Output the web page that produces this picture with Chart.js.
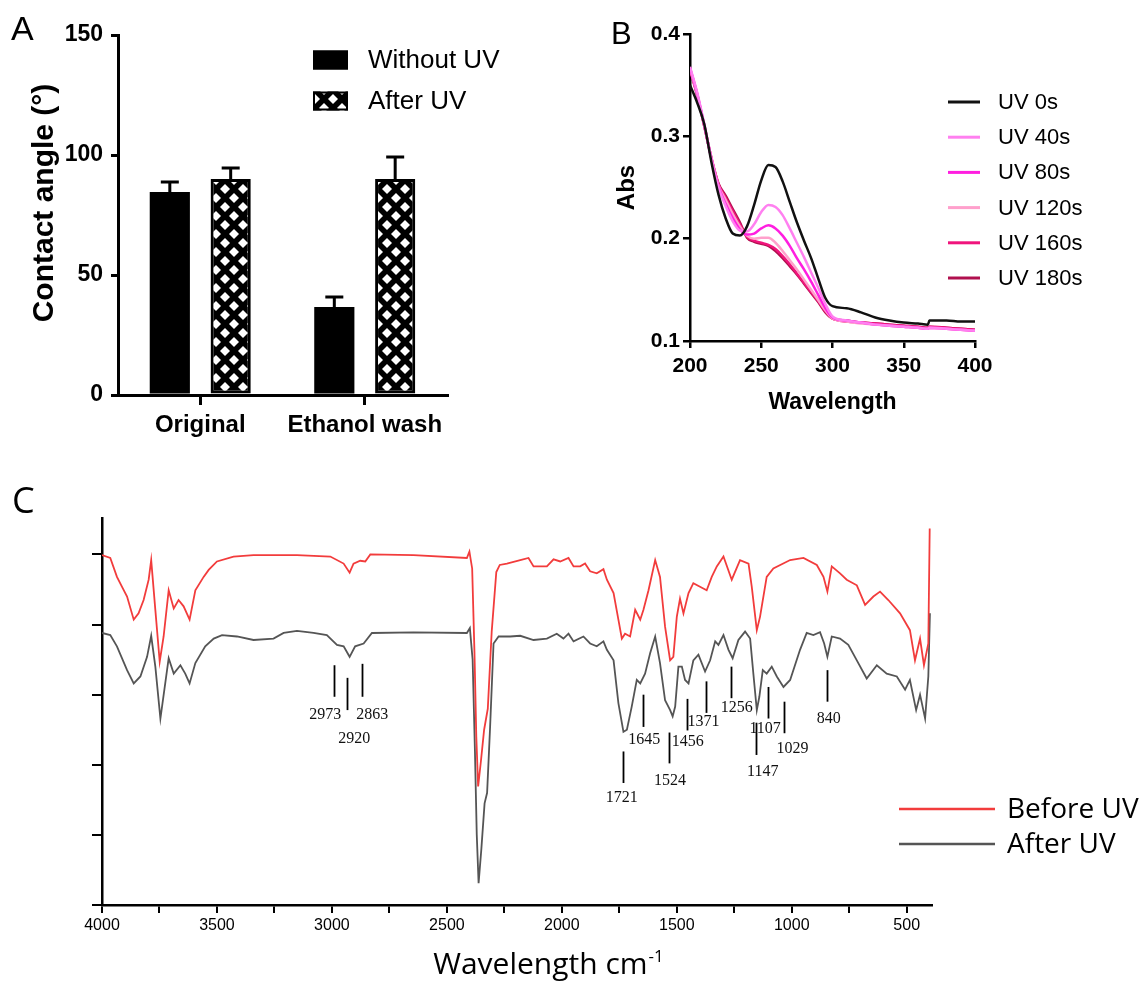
<!DOCTYPE html>
<html>
<head>
<meta charset="utf-8">
<title>Contact angle, UV-Vis and FTIR</title>
<script src="https://cdn.jsdelivr.net/npm/chart.js@4.4.1/dist/chart.umd.min.js"></script>
<style>
  body { margin: 0; background: #fff; }
  #wrap { position: relative; width: 1146px; height: 986px; overflow: hidden; background: #fff; }
  #wrap canvas { position: absolute; }
</style>
</head>
<body>
<div id="wrap">
  <canvas id="chartA" width="580" height="470" style="left:0;top:0"></canvas>
  <canvas id="chartB" width="566" height="420" style="left:580px;top:0"></canvas>
  <canvas id="chartC" width="1146" height="516" style="left:0;top:470px"></canvas>
</div>
<script>
// --- A: contact angle ---
const groupNames = ['Original', 'Ethanol wash'];
const withoutUV = [84.6, 36.7];
const withoutUVErr = [4.2, 4.1];
const afterUV = [90.0, 90.0];
const afterUVErr = [4.6, 9.2];
const angleTicks = [0, 50, 100, 150];

// --- B: UV-Vis absorbance ---
const uvWave = [200, 205, 210, 215, 220, 225, 230, 235, 240, 245, 250, 255, 260, 265, 270, 275,
                280, 285, 290, 295, 300, 310, 320, 330, 340, 350, 360, 367, 368, 380, 390, 400];
const uv0   = [.350, .333, .312, .275, .243, .220, .205, .203, .212, .233, .257, .272, .270, .256, .236, .216,
               .198, .181, .161, .142, .134, .132, .128, .123, .120, .118, .117, .116, .120, .120, .119, .119];
const uv40  = [.368, .343, .312, .278, .250, .232, .217, .208, .207, .214, .226, .233, .231, .223, .210, .196,
               .182, .167, .152, .136, .124, .120, .118, .116, .115, .114, .113, .112, .113, .112, .111, .110];
const uv80  = [.367, .342, .311, .278, .251, .234, .220, .209, .204, .205, .210, .213, .210, .203, .193, .181,
               .170, .158, .145, .132, .123, .120, .118, .116, .115, .114, .113, .112, .113, .112, .111, .110];
const uv120 = [.366, .341, .311, .279, .252, .238, .224, .212, .203, .200, .201, .201, .196, .188, .179, .170,
               .160, .150, .140, .130, .122, .119, .117, .116, .115, .114, .113, .112, .113, .112, .111, .110];
const uv160 = [.366, .341, .310, .279, .253, .240, .227, .214, .202, .198, .196, .194, .190, .183, .175, .166,
               .157, .148, .139, .129, .122, .119, .118, .117, .116, .115, .114, .113, .114, .113, .112, .111];
const uv180 = [.365, .340, .310, .279, .254, .242, .229, .216, .201, .197, .195, .193, .188, .181, .173, .165,
               .156, .147, .138, .128, .122, .120, .118, .117, .116, .115, .114, .113, .114, .113, .112, .111];
const uvNames  = ['UV 0s', 'UV 40s', 'UV 80s', 'UV 120s', 'UV 160s', 'UV 180s'];
const uvColors = ['#111111', '#ff80f0', '#ff1ee0', '#ffa0cc', '#f0147c', '#b0104e'];
const absTicks = [0.1, 0.2, 0.3, 0.4];
const waveTicks = [200, 250, 300, 350, 400];

// --- C: FTIR (arbitrary transmittance units) ---
const redWave = [4000, 3964, 3935, 3910, 3891, 3862, 3841, 3819, 3797, 3786, 3768, 3749, 3732, 3710, 3688, 3667,
  3645, 3619, 3594, 3558, 3536, 3500, 3428, 3341, 3152, 3007, 2949, 2923, 2906, 2877, 2855, 2833, 2645, 2413,
  2402, 2390, 2380, 2372, 2364, 2352, 2338, 2322, 2305, 2285, 2270, 2239, 2181, 2145, 2123, 2065, 2036, 2007,
  1971, 1949, 1920, 1899, 1877, 1848, 1819, 1804, 1775, 1754, 1739, 1725, 1703, 1681, 1659, 1645, 1623, 1594,
  1573, 1551, 1529, 1515, 1500, 1486, 1471, 1449, 1428, 1399, 1370, 1348, 1326, 1297, 1261, 1225, 1188, 1174,
  1152, 1138, 1109, 1080, 1007, 949, 891, 862, 845, 826, 790, 761, 717, 681, 645, 616, 580, 529, 486, 464,
  442, 425, 406, 400];
const redVal = [4.99, 4.95, 4.68, 4.52, 4.40, 4.07, 4.16, 4.35, 4.64, 4.92, 4.21, 3.47, 3.83, 4.49, 4.23, 4.35,
  4.26, 4.07, 4.49, 4.68, 4.78, 4.90, 4.97, 4.99, 4.99, 4.97, 4.87, 4.74, 4.87, 4.91, 4.90, 5.00, 4.99, 4.95,
  5.04, 4.80, 3.60, 2.40, 1.69, 2.05, 2.50, 2.80, 3.90, 4.75, 4.85, 4.87, 4.92, 4.95, 4.83, 4.83, 4.93, 4.90,
  4.95, 4.83, 4.83, 4.87, 4.76, 4.73, 4.79, 4.64, 4.45, 4.07, 3.80, 3.87, 3.83, 4.21, 4.07, 4.21, 4.49, 4.92,
  4.68, 3.97, 3.49, 3.54, 4.11, 4.37, 4.16, 4.45, 4.59, 4.54, 4.49, 4.68, 4.83, 4.97, 4.64, 4.92, 4.87, 4.54,
  3.92, 4.11, 4.68, 4.80, 4.92, 4.95, 4.85, 4.68, 4.47, 4.83, 4.73, 4.64, 4.56, 4.28, 4.40, 4.47, 4.35, 4.16,
  3.92, 3.49, 3.80, 3.42, 3.73, 5.37];
const grayWave = [4000, 3964, 3935, 3891, 3862, 3833, 3804, 3786, 3768, 3746, 3725, 3710, 3688, 3659, 3638, 3619,
  3594, 3551, 3514, 3478, 3413, 3341, 3254, 3210, 3152, 3080, 3022, 2978, 2949, 2923, 2899, 2862, 2826, 2645,
  2413, 2400, 2388, 2378, 2370, 2362, 2350, 2336, 2325, 2312, 2297, 2275, 2225, 2181, 2123, 2065, 2022, 1993,
  1971, 1949, 1906, 1877, 1848, 1819, 1804, 1775, 1754, 1732, 1717, 1696, 1674, 1659, 1638, 1616, 1594, 1573,
  1551, 1529, 1518, 1507, 1493, 1478, 1464, 1449, 1428, 1406, 1377, 1355, 1333, 1319, 1297, 1275, 1257, 1232,
  1203, 1181, 1167, 1152, 1141, 1126, 1109, 1087, 1065, 1036, 1007, 964, 935, 906, 877, 859, 845, 826, 790,
  754, 717, 674, 630, 587, 543, 507, 486, 459, 442, 420, 406, 399];
const grayVal = [3.88, 3.85, 3.69, 3.35, 3.16, 3.26, 3.54, 3.84, 3.40, 2.66, 3.16, 3.52, 3.30, 3.42, 3.30, 3.16,
  3.45, 3.69, 3.80, 3.85, 3.83, 3.78, 3.80, 3.88, 3.91, 3.88, 3.85, 3.71, 3.69, 3.54, 3.69, 3.73, 3.88, 3.89,
  3.88, 3.95, 3.50, 2.20, 1.00, 0.31, 0.80, 1.45, 1.60, 2.54, 3.73, 3.83, 3.83, 3.84, 3.78, 3.80, 3.87, 3.80,
  3.87, 3.76, 3.83, 3.73, 3.69, 3.76, 3.64, 3.49, 2.88, 2.47, 2.50, 2.83, 3.21, 3.16, 3.30, 3.59, 3.83, 3.45,
  2.92, 2.78, 2.69, 2.83, 3.40, 3.40, 3.21, 3.16, 3.49, 3.57, 3.33, 3.49, 3.76, 3.71, 3.85, 3.64, 3.52, 3.78,
  3.90, 3.80, 3.30, 2.78, 2.97, 3.35, 3.30, 3.40, 3.26, 3.11, 3.21, 3.64, 3.88, 3.85, 3.89, 3.73, 3.54, 3.83,
  3.80, 3.71, 3.49, 3.23, 3.42, 3.30, 3.26, 3.07, 3.21, 2.78, 3.00, 2.66, 3.26, 4.16];
const cmTicks = [4000, 3750, 3500, 3250, 3000, 2750, 2500, 2250, 2000, 1750, 1500, 1250, 1000, 750, 500];
const levelTicks = [0, 1, 2, 3, 4, 5];

// peak markers: label, marker position (cm-1), marker top/bottom, label position
const peakLabel  = ['2973', '2920', '2863', '1721', '1645', '1524', '1456', '1371', '1256', '1147', '1107', '1029', '840'];
const peakAt     = [2990, 2933, 2868, 1736, 1645, 1532, 1457, 1374, 1264, 1155, 1102, 1033, 848];
const peakTop    = [3.42, 3.24, 3.44, 2.19, 3.00, 2.46, 2.94, 3.19, 3.40, 2.60, 3.11, 2.90, 3.35];
const peakBottom = [2.97, 2.78, 2.97, 1.74, 2.54, 2.02, 2.49, 2.74, 2.95, 2.14, 2.66, 2.45, 2.90];
const peakTextAt = [3029, 2903, 2825, 1739, 1642, 1529, 1452, 1384, 1239, 1126, 1116, 997, 839];
const peakTextY  = [2.72, 2.37, 2.71, 1.53, 2.35, 1.77, 2.33, 2.61, 2.81, 1.90, 2.52, 2.23, 2.66];

Chart.defaults.font.family = '"Liberation Sans", Arial, sans-serif';
Chart.defaults.color = '#000';
Chart.defaults.animation = false;

const SANS = '"Liberation Sans", Arial, sans-serif';
const SOFT = '"Open Sans", "Noto Sans", sans-serif';

// draws the panel letter in the corner
const panelLetter = {
  id: 'panelLetter',
  afterDraw(chart, args, opts) {
    const ctx = chart.ctx;
    ctx.save();
    ctx.font = opts.size + 'px ' + opts.family;
    ctx.fillStyle = '#000';
    ctx.textAlign = 'left';
    ctx.textBaseline = 'alphabetic';
    ctx.fillText(opts.text, opts.x, opts.y);
    ctx.restore();
  }
};

// ----- Panel A -----
function diamondPattern(ctx) {
  const c = document.createElement('canvas');
  c.width = 18; c.height = 18;
  const g = c.getContext('2d');
  g.fillStyle = '#000';
  g.fillRect(0, 0, 18, 18);
  g.fillStyle = '#fff';
  const d = (cx, cy) => {
    g.beginPath();
    g.moveTo(cx, cy - 5); g.lineTo(cx + 5, cy); g.lineTo(cx, cy + 5); g.lineTo(cx - 5, cy);
    g.closePath(); g.fill();
  };
  d(9, 9); d(0, 0); d(18, 0); d(0, 18); d(18, 18);
  return ctx.createPattern(c, 'repeat');
}

const errorBars = {
  id: 'errorBars',
  afterDatasetsDraw(chart) {
    const { ctx } = chart;
    const y = chart.scales.y;
    ctx.save();
    ctx.strokeStyle = '#000';
    ctx.lineWidth = 3;
    chart.data.datasets.forEach((ds, di) => {
      chart.getDatasetMeta(di).data.forEach((bar, i) => {
        const top = y.getPixelForValue(ds.data[i] + ds.errors[i]);
        ctx.beginPath();
        ctx.moveTo(bar.x, bar.y);
        ctx.lineTo(bar.x, top);
        ctx.moveTo(bar.x - 9, top);
        ctx.lineTo(bar.x + 9, top);
        ctx.stroke();
      });
    });
    ctx.restore();
  }
};

const legendA = {
  id: 'legendA',
  afterDraw(chart) {
    const ctx = chart.ctx;
    ctx.save();
    chart.data.datasets.forEach((ds, i) => {
      const yc = 60 + i * 41;
      ctx.fillStyle = ds.backgroundColor;
      ctx.fillRect(313, yc - 9.5, 35, 19);
      ctx.strokeStyle = '#000';
      ctx.lineWidth = 2;
      ctx.strokeRect(314, yc - 8.5, 33, 17);
      ctx.fillStyle = '#000';
      ctx.font = '26px ' + SANS;
      ctx.textAlign = 'left';
      ctx.textBaseline = 'middle';
      ctx.fillText(ds.label, 368, yc + 1);
    });
    // rotated axis title, sitting a little above the axis middle as in the figure
    ctx.translate(53, 203);
    ctx.rotate(-Math.PI / 2);
    ctx.font = 'bold 30px ' + SANS;
    ctx.textAlign = 'center';
    ctx.textBaseline = 'alphabetic';
    ctx.fillText('Contact angle (°)', 0, 0);
    ctx.restore();
  }
};

const ctxA = document.getElementById('chartA').getContext('2d');
new Chart(ctxA, {
  type: 'bar',
  data: {
    labels: groupNames,
    datasets: [{
      label: 'Without UV',
      data: withoutUV,
      errors: withoutUVErr,
      backgroundColor: '#000',
      borderColor: '#000',
      borderWidth: 0,
      categoryPercentage: 0.74,
      barPercentage: 0.66
    }, {
      label: 'After UV',
      data: afterUV,
      errors: afterUVErr,
      backgroundColor: diamondPattern(ctxA),
      borderColor: '#000',
      borderWidth: 3,
      borderSkipped: false,
      categoryPercentage: 0.74,
      barPercentage: 0.66
    }]
  },
  options: {
    responsive: false,
    layout: { padding: { top: 35, right: 133, left: 0, bottom: 0 } },
    scales: {
      x: {
        grid: { offset: false, drawOnChartArea: false, drawTicks: true, tickLength: 10, color: '#000', lineWidth: 3 },
        border: { display: true, color: '#000', width: 3 },
        ticks: { font: { size: 24, weight: 'bold' }, padding: 6, color: '#000' },
        afterFit: (axis) => { axis.height = 75; }
      },
      y: {
        min: 0, max: 150,
        afterBuildTicks: (axis) => { axis.ticks = angleTicks.map(v => ({ value: v })); },
        grid: { drawOnChartArea: false, drawTicks: true, tickLength: 7, color: '#000', lineWidth: 3 },
        border: { display: true, color: '#000', width: 3 },
        ticks: { font: { size: 23, weight: 'bold' }, padding: 8, color: '#000' },
        afterFit: (axis) => { axis.width = 118; }
      }
    },
    plugins: {
      legend: { display: false },
      tooltip: { enabled: false },
      panelLetter: { text: 'A', x: 11, y: 40, size: 34, family: SANS }
    }
  },
  plugins: [errorBars, legendA, panelLetter]
});

// ----- Panel B -----
const legendB = {
  id: 'legendB',
  afterDraw(chart) {
    const ctx = chart.ctx;
    ctx.save();
    chart.data.datasets.forEach((ds, i) => {
      const yc = 102 + i * 35.2;
      ctx.strokeStyle = ds.borderColor;
      ctx.lineWidth = 3;
      ctx.beginPath();
      ctx.moveTo(368, yc);
      ctx.lineTo(400, yc);
      ctx.stroke();
      ctx.fillStyle = '#000';
      ctx.font = '22px ' + SANS;
      ctx.textAlign = 'left';
      ctx.textBaseline = 'middle';
      ctx.fillText(ds.label, 418, yc + 1);
    });
    ctx.restore();
  }
};

const uvSeries = [uv0, uv40, uv80, uv120, uv160, uv180];
new Chart(document.getElementById('chartB'), {
  type: 'line',
  data: {
    datasets: uvSeries.map((vals, k) => ({
      label: uvNames[k],
      data: uvWave.map((w, i) => ({ x: w, y: vals[i] })),
      borderColor: uvColors[k],
      borderWidth: 2.5,
      pointRadius: 0,
      cubicInterpolationMode: 'monotone',
      fill: false
    }))
  },
  options: {
    responsive: false,
    layout: { padding: { top: 34, right: 171, left: 0, bottom: 0 } },
    scales: {
      x: {
        type: 'linear', min: 200, max: 400,
        afterBuildTicks: (axis) => { axis.ticks = waveTicks.map(v => ({ value: v })); },
        grid: { drawOnChartArea: false, drawTicks: true, tickLength: 7, color: '#000', lineWidth: 2.5 },
        border: { display: true, color: '#000', width: 2.5 },
        ticks: { font: { size: 21, weight: 'bold' }, padding: 6, color: '#000' },
        title: { display: true, text: 'Wavelength', font: { size: 23, weight: 'bold' }, padding: { top: 0, bottom: 4 }, color: '#000' },
        afterFit: (axis) => { axis.height = 79; }
      },
      y: {
        min: 0.1, max: 0.4,
        afterBuildTicks: (axis) => { axis.ticks = absTicks.map(v => ({ value: v })); },
        grid: { drawOnChartArea: false, drawTicks: true, tickLength: 7, color: '#000', lineWidth: 2.5 },
        border: { display: true, color: '#000', width: 2.5 },
        ticks: { font: { size: 21, weight: 'bold' }, padding: 3, color: '#000', callback: (v) => v.toFixed(1) },
        title: { display: true, text: 'Abs', font: { size: 24, weight: 'bold' }, padding: { top: 33, bottom: 0 }, color: '#000' },
        afterFit: (axis) => { axis.width = 110; }
      }
    },
    plugins: {
      legend: { display: false },
      tooltip: { enabled: false },
      panelLetter: { text: 'B', x: 31, y: 44, size: 31, family: SANS }
    }
  },
  plugins: [legendB, panelLetter]
});

// ----- Panel C -----
const peakMarks = {
  id: 'peakMarks',
  afterDatasetsDraw(chart) {
    const { ctx } = chart;
    const x = chart.scales.x, y = chart.scales.y;
    ctx.save();
    ctx.strokeStyle = '#000';
    ctx.lineWidth = 1.8;
    ctx.fillStyle = '#111';
    ctx.font = '16px "Liberation Serif", "Times New Roman", serif';
    ctx.textAlign = 'center';
    ctx.textBaseline = 'middle';
    peakLabel.forEach((lab, i) => {
      const px = Math.round(x.getPixelForValue(peakAt[i])) + 0.5;
      ctx.beginPath();
      ctx.moveTo(px, y.getPixelForValue(peakTop[i]));
      ctx.lineTo(px, y.getPixelForValue(peakBottom[i]));
      ctx.stroke();
      ctx.fillText(lab, x.getPixelForValue(peakTextAt[i]), y.getPixelForValue(peakTextY[i]));
    });
    ctx.restore();
  }
};

const legendC = {
  id: 'legendC',
  afterDraw(chart) {
    const ctx = chart.ctx;
    ctx.save();
    chart.data.datasets.forEach((ds, i) => {
      const yc = 339 + i * 35;
      ctx.strokeStyle = ds.borderColor;
      ctx.lineWidth = 2.5;
      ctx.beginPath();
      ctx.moveTo(899, yc);
      ctx.lineTo(995, yc);
      ctx.stroke();
      ctx.fillStyle = '#000';
      ctx.font = '28px ' + SOFT;
      ctx.textAlign = 'left';
      ctx.textBaseline = 'middle';
      ctx.fillText(ds.label, 1007, yc + 1);
    });
    ctx.restore();
  }
};

// x-axis title with a real superscript
const titleC = {
  id: 'titleC',
  afterDraw(chart) {
    const ctx = chart.ctx;
    const main = 'Wavelength cm', sup = '-1';
    ctx.save();
    ctx.fillStyle = '#000';
    ctx.textBaseline = 'alphabetic';
    ctx.textAlign = 'left';
    ctx.font = '30px ' + SOFT;
    const w1 = ctx.measureText(main).width;
    ctx.font = '17px ' + SOFT;
    const w2 = ctx.measureText(sup).width;
    const x0 = 548 - (w1 + w2) / 2;
    const base = 504;
    ctx.font = '30px ' + SOFT;
    ctx.fillText(main, x0, base);
    ctx.font = '17px ' + SOFT;
    ctx.fillText(sup, x0 + w1 + 1, base - 12);
    ctx.restore();
  }
};

new Chart(document.getElementById('chartC'), {
  type: 'line',
  data: {
    datasets: [{
      label: 'Before UV',
      data: redWave.map((w, i) => ({ x: w, y: redVal[i] })),
      borderColor: '#f23c3c',
      borderWidth: 1.8,
      pointRadius: 0,
      tension: 0
    }, {
      label: 'After UV',
      data: grayWave.map((w, i) => ({ x: w, y: grayVal[i] })),
      borderColor: '#555555',
      borderWidth: 1.8,
      pointRadius: 0,
      tension: 0
    }]
  },
  options: {
    responsive: false,
    layout: { padding: { top: 48, right: 214, left: 0, bottom: 0 } },
    scales: {
      x: {
        type: 'linear', reverse: true, min: 390, max: 4000,
        afterBuildTicks: (axis) => { axis.ticks = cmTicks.map(v => ({ value: v })); },
        grid: { drawOnChartArea: false, drawTicks: true, tickLength: 8, color: '#000', lineWidth: 2 },
        border: { display: true, color: '#000', width: 2.5 },
        ticks: { font: { size: 16 }, padding: 3, color: '#000', autoSkip: false, maxRotation: 0,
                 callback: (v) => (v % 500 === 0 ? String(v) : '') },
        afterFit: (axis) => { axis.height = 81; }
      },
      y: {
        min: 0, max: 5.52,
        afterBuildTicks: (axis) => { axis.ticks = levelTicks.map(v => ({ value: v })); },
        grid: { drawOnChartArea: false, drawTicks: true, tickLength: 10, color: '#000', lineWidth: 2 },
        border: { display: true, color: '#000', width: 2.5 },
        ticks: { display: false },
        afterFit: (axis) => { axis.width = 102; }
      }
    },
    plugins: {
      legend: { display: false },
      tooltip: { enabled: false },
      panelLetter: { text: 'C', x: 12, y: 43, size: 36, family: SOFT }
    }
  },
  plugins: [peakMarks, legendC, titleC, panelLetter]
});
</script>
</body>
</html>
